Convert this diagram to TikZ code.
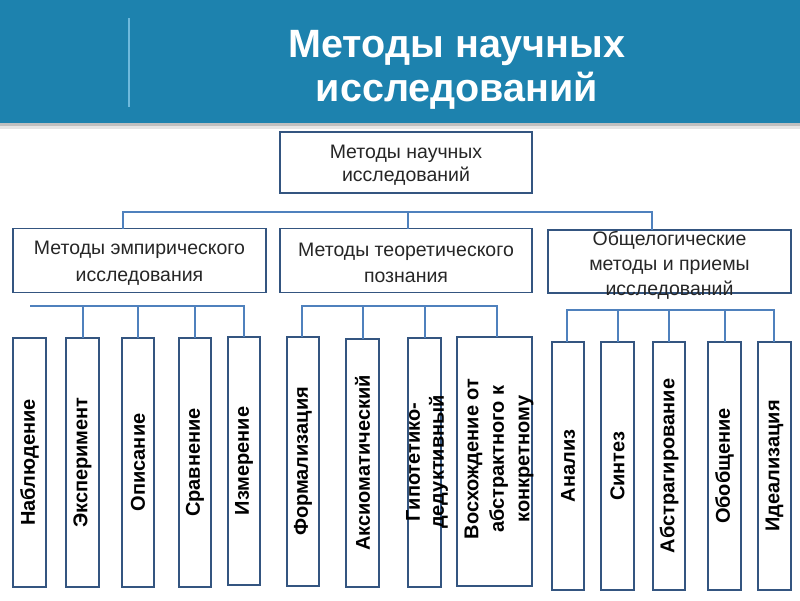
\documentclass[tikz,border=0pt]{standalone}
\usepackage{fontspec}
\setmainfont{Liberation Sans}
\begin{document}
\begin{tikzpicture}[x=1pt,y=-1pt,
  every node/.style={inner sep=0pt,outer sep=0pt},
  box/.style={draw=boxc,line width=1.6pt,fill=white},
  conn/.style={draw=connc,line width=2pt},
  midtext/.style={font=\fontsize{19.5}{26.5}\selectfont,align=center,text=black!85},
  vtext/.style={font=\bfseries\fontsize{20}{24}\selectfont,align=center,rotate=90,text=black}]
\definecolor{headc}{RGB}{29,130,174}
\definecolor{linec}{RGB}{110,185,220}
\definecolor{boxc}{RGB}{52,85,128}
\definecolor{connc}{RGB}{79,129,189}
\useasboundingbox (0,0) rectangle (800,600);
\fill[white] (0,0) rectangle (800,600);
% header
\fill[black!25] (0,122) rectangle (800,126);
\fill[black!10] (0,126) rectangle (800,129);
\fill[headc] (0,0) rectangle (800,123);
\draw[linec,line width=2pt] (129,18) -- (129,107);
\node[font=\bfseries\fontsize{39.5}{44}\selectfont,text=white,align=center] (title) at (457,70) {Методы научных\\исследований};
% top
\node[box,minimum width=252,minimum height=61] (top) at (406,162.5) {};
\node[font=\fontsize{19.5}{23.5}\selectfont,align=center,text=black!85] (toptxt) at (406,165) {Методы научных\\исследований};
% middle row
\node[box,minimum width=253,minimum height=64] (m1) at (139.5,260.5) {};
\node[midtext] (m1t) at (139.5,263) {Методы эмпирического\\исследования};
\node[box,minimum width=252,minimum height=64] (m2) at (406,260.5) {};
\node[midtext] (m2t) at (406,263) {Методы теоретического\\познания};
\node[box,minimum width=243,minimum height=63] (m3) at (669.5,261.5) {};
\node[midtext,font=\fontsize{19.5}{25}\selectfont] (m3t) at (669.5,265) {Общелогические\\методы и приемы\\исследований};
% top connectors
\coordinate (h1) at (123,212);
\coordinate (h2) at (652,212);
\draw[conn] (m1.north -| h1) -- (h1) -- (h2) -- (m3.north -| h2);
\draw[conn] (408,212) -- (m2.north -| 408,0);
% bottom boxes: empirical
\node[box,minimum width=33,minimum height=249] (e1) at (29.5,462.5) {};
\node[box,minimum width=33,minimum height=249] (e2) at (82.5,462.5) {};
\node[box,minimum width=32,minimum height=249] (e3) at (138,462.5) {};
\node[box,minimum width=32,minimum height=249] (e4) at (195,462.5) {};
\node[box,minimum width=32,minimum height=248] (e5) at (244,461) {};
\node[vtext] (e1t) at (e1.center) {Наблюдение};
\node[vtext] (e2t) at (e2.center) {Эксперимент};
\node[vtext] (e3t) at (e3.center) {Описание};
\node[vtext] (e4t) at (e4.center) {Сравнение};
\node[vtext] (e5t) at (e5.center) {Измерение};
\coordinate (eh1) at (30,306);
\coordinate (eh2) at (244,306);
\draw[conn] (eh1) -- (eh2) -- (e5.north);
\draw[conn] (e2.north) -- (e2.north |- eh1);
\draw[conn] (e3.north) -- (e3.north |- eh1);
\draw[conn] (e4.north) -- (e4.north |- eh1);
% bottom boxes: theoretical
\node[box,minimum width=32,minimum height=249] (t1) at (303,461.5) {};
\node[box,minimum width=33,minimum height=248] (t2) at (362.5,463) {};
\node[box,minimum width=33,minimum height=249] (t3) at (424.5,462.5) {};
\node[box,minimum width=75,minimum height=249] (t4) at (494.5,461.5) {};
\node[vtext] (t1t) at (t1.center) {Формализация};
\node[vtext] (t2t) at (t2.center) {Аксиоматический};
\node[vtext] (t3t) at (427,462) {Гипотетико-\\дедуктивный};
\node[vtext,font=\bfseries\fontsize{20}{25.5}\selectfont] (t4t) at (499,459) {Восхождение от\\абстрактного к\\конкретному};
\coordinate (th1) at (302,306);
\coordinate (th2) at (497,306);
\draw[conn] (t1.north -| th1) -- (th1) -- (th2) -- (t4.north -| th2);
\draw[conn] (t2.north) -- (t2.north |- th1);
\draw[conn] (t3.north) -- (t3.north |- th1);
% bottom boxes: general-logical
\node[box,minimum width=32,minimum height=248] (g1) at (568,466) {};
\node[box,minimum width=33,minimum height=248] (g2) at (617.5,466) {};
\node[box,minimum width=32,minimum height=248] (g3) at (669,466) {};
\node[box,minimum width=33,minimum height=248] (g4) at (724.5,466) {};
\node[box,minimum width=33,minimum height=248] (g5) at (774.5,466) {};
\node[vtext] (g1t) at (g1.center) {Анализ};
\node[vtext] (g2t) at (g2.center) {Синтез};
\node[vtext] (g3t) at (g3.center) {Абстрагирование};
\node[vtext] (g4t) at (g4.center) {Обобщение};
\node[vtext] (g5t) at (g5.center) {Идеализация};
\coordinate (gh1) at (567,310);
\coordinate (gh2) at (774,310);
\draw[conn] (g1.north -| gh1) -- (gh1) -- (gh2) -- (g5.north -| gh2);
\draw[conn] (g2.north) -- (g2.north |- gh1);
\draw[conn] (g3.north) -- (g3.north |- gh1);
\draw[conn] (g4.north) -- (g4.north |- gh1);
\end{tikzpicture}
\end{document}
